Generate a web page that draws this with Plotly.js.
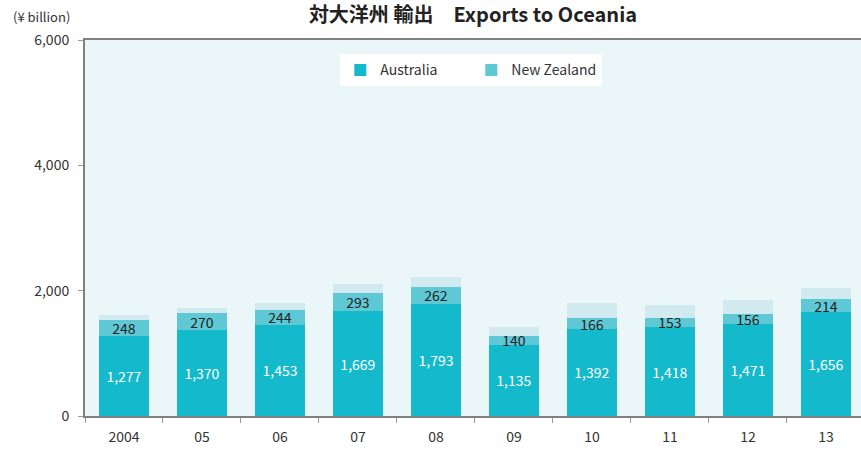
<!DOCTYPE html>
<html>
<head>
<meta charset="utf-8">
<script src="https://cdn.plot.ly/plotly-3.0.1.min.js"></script>
<style>html,body{margin:0;padding:0;overflow:hidden;background:#fff}</style>
</head>
<body>
<div id="chart" style="width:861px;height:454px"></div>
<script>
const years = ["2004", "05", "06", "07", "08", "09", "10", "11", "12", "13"];
const australia = [1277, 1370, 1453, 1669, 1793, 1135, 1392, 1418, 1471, 1656];
const newZealand = [248, 270, 244, 293, 262, 140, 166, 153, 156, 214];
const others = [80, 80, 112, 144, 160, 144, 240, 207, 223, 176];

const FONT = '"Noto Sans CJK JP", "Noto Sans", sans-serif';

const traces = [
  {
    type: 'bar', name: 'Australia', x: years, y: australia,
    marker: {color: '#14B9CB'},
    texttemplate: '%{y:,}', textposition: 'inside', insidetextanchor: 'middle', textangle: 0,
    textfont: {color: '#ffffff', size: 14, family: FONT},
    hoverinfo: 'skip'
  },
  {
    type: 'bar', name: 'New Zealand', x: years, y: newZealand,
    marker: {color: '#5EC8D5'},
    texttemplate: '%{y:,}', textposition: 'inside', insidetextanchor: 'middle', textangle: 0,
    textfont: {color: '#222222', size: 14, family: FONT},
    hoverinfo: 'skip'
  },
  {
    type: 'bar', name: 'Others', x: years, y: others,
    marker: {color: '#D1EAF0'},
    showlegend: false, hoverinfo: 'skip'
  }
];

const layout = {
  width: 861, height: 454,
  barmode: 'stack', bargap: 0.36,
  margin: {l: 85, r: 0, t: 40, b: 38},
  paper_bgcolor: '#ffffff', plot_bgcolor: '#EAF6F8',
  font: {family: FONT, size: 14, color: '#333333'},
  uniformtext: {minsize: 14, mode: 'show'},
  title: {
    text: '<b>対大洋州 輸出　Exports to Oceania</b>',
    font: {family: FONT, size: 20, color: '#222222'},
    x: 0.5, xref: 'paper', y: 0.966, yref: 'container', yanchor: 'middle'
  },
  xaxis: {
    type: 'category', range: [-0.5, 9.45],
    showline: true, linecolor: '#808080', linewidth: 2, mirror: true,
    ticks: 'outside', tickson: 'boundaries', ticklen: 5, tickcolor: '#999999',
    showgrid: false, tickfont: {size: 14, color: '#333333'}, ticklabelstandoff: 7
  },
  yaxis: {
    range: [0, 6000], tickvals: [0, 2000, 4000, 6000], tickformat: ',',
    showline: true, linecolor: '#808080', linewidth: 2,
    ticks: 'outside', ticklen: 5, tickcolor: '#999999', ticklabelstandoff: 6,
    showgrid: false, zeroline: false, tickfont: {size: 14, color: '#333333'}
  },
  legend: {
    orientation: 'h', x: 0.329, y: 0.962, xanchor: 'left', yanchor: 'top',
    bgcolor: '#ffffff', itemwidth: 30, entrywidth: 86, font: {size: 14, color: '#333333'},
    traceorder: 'normal'
  },
  annotations: [{
    text: '(¥ billion)', xref: 'paper', yref: 'paper', x: -0.096, y: 1.062,
    xanchor: 'left', yanchor: 'middle', showarrow: false,
    font: {size: 13, color: '#333333'}
  }]
};

Plotly.newPlot('chart', traces, layout, {displayModeBar: false, staticPlot: true});
</script>
</body>
</html>
